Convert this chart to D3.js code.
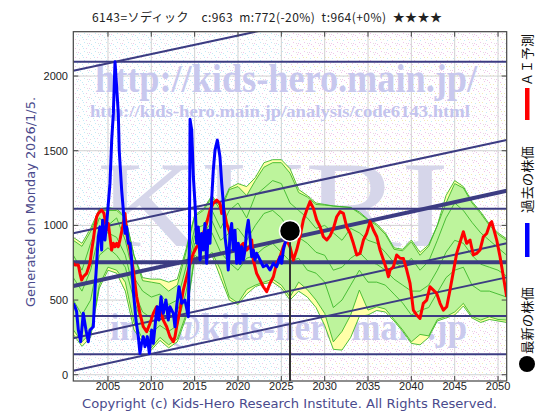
<!DOCTYPE html>
<html><head><meta charset="utf-8">
<script src="https://cdn.jsdelivr.net/npm/d3@7"></script>
<style>body{margin:0;background:#fff}svg{display:block}</style>
</head><body><svg id="c" width="560" height="420"></svg>
<script>
// ---------------- data ----------------
const titleText = "6143=ソディック    c:963  m:772(-20%)  t:964(+0%)  ★★★★";
const xTicks = [2005, 2010, 2015, 2020, 2025, 2030, 2035, 2040, 2045, 2050];
const yTicks = [0, 500, 1000, 1500, 2000];

const blueYears = [2001.00,2001.19,2001.38,2001.58,2001.85,2002.15,2002.46,2002.73,2002.92,2003.31,2003.50,2003.88,2004.08,2004.27,2004.38,2004.65,2004.85,2005.23,2005.43,2005.62,2005.81,2006.00,2006.19,2006.30,2006.58,2006.77,2006.96,2007.15,2007.35,2007.54,2007.73,2007.92,2008.23,2008.50,2008.69,2008.88,2009.08,2009.27,2009.54,2009.77,2010.04,2010.23,2010.50,2010.69,2010.88,2011.12,2011.38,2011.69,2011.96,2012.15,2012.54,2012.73,2012.92,2013.19,2013.50,2013.88,2014.27,2014.40,2014.47,2014.66,2014.85,2015.04,2015.23,2015.42,2015.62,2015.81,2016.00,2016.19,2016.38,2016.58,2016.77,2016.96,2017.15,2017.35,2017.62,2017.92,2018.12,2018.31,2018.50,2018.69,2018.88,2019.08,2019.27,2019.46,2019.65,2019.85,2020.04,2020.23,2020.42,2020.62,2020.81,2021.00,2021.19,2021.38,2021.58,2021.77,2021.96,2022.15,2022.54,2022.92,2023.31,2023.69,2024.08,2024.46,2024.85,2025.04,2025.23,2025.42,2025.62,2025.92,2026.00];
const blueValues = [478,456,424,299,221,411,299,221,299,321,567,924,990,835,1035,902,1013,1281,1571,1750,2096,1929,1750,1500,1236,1103,947,990,880,880,768,567,366,255,143,210,255,188,255,143,299,210,366,455,366,522,411,500,366,455,411,321,455,589,478,500,388,900,1710,1638,1326,1148,880,990,768,946,835,1013,746,968,880,1170,1370,1504,1571,1459,1281,1148,924,835,701,946,1013,835,968,746,880,746,857,768,835,968,1035,924,790,835,768,813,768,723,735,701,746,723,790,746,835,880,902,924,963];

const redYears = [2001.00,2001.19,2001.58,2001.77,2001.96,2002.15,2002.54,2002.92,2003.12,2003.31,2003.50,2003.69,2003.88,2004.27,2004.54,2004.85,2005.04,2005.23,2005.42,2005.62,2005.81,2006.00,2006.19,2006.38,2006.77,2006.96,2007.15,2007.54,2007.92,2008.31,2008.69,2009.08,2009.46,2009.85,2010.23,2010.62,2011.00,2011.38,2011.77,2012.15,2012.54,2012.73,2012.92,2013.31,2013.69,2014.08,2014.46,2014.85,2015.23,2015.62,2016.00,2016.38,2016.77,2017.15,2017.54,2017.92,2018.12,2018.31,2018.69,2019.08,2019.46,2019.85,2020.23,2020.62,2021.00,2021.38,2021.58,2021.77,2022.15,2022.54,2022.92,2023.31,2023.69,2024.08,2024.46,2024.85,2025.23,2025.62,2026.00,2026.38,2026.77,2027.15,2027.54,2027.93,2028.31,2028.70,2029.08,2029.47,2029.85,2030.24,2030.62,2031.01,2031.39,2031.78,2032.16,2032.54,2032.93,2033.31,2033.70,2034.08,2034.47,2034.85,2035.24,2035.62,2036.01,2036.39,2036.78,2037.16,2037.35,2037.54,2037.93,2038.31,2038.70,2039.08,2039.47,2039.85,2040.23,2040.61,2041.00,2041.38,2041.77,2042.15,2042.54,2042.92,2043.31,2043.69,2044.08,2044.46,2045.23,2046.00,2046.38,2046.77,2047.15,2047.54,2047.92,2048.31,2048.69,2049.08,2049.27,2049.85,2050.23,2050.62,2051.00];
const redValues = [746,735,735,679,634,656,679,746,835,902,990,1057,1080,1103,1080,968,1013,924,835,880,857,880,857,902,1013,1080,946,835,701,522,411,321,288,344,411,455,433,366,321,255,221,255,321,433,567,656,746,813,857,880,946,1013,1103,1148,1170,1148,1080,1125,1013,946,902,835,857,880,835,857,902,768,679,634,589,556,611,656,746,790,857,902,857,768,835,924,1036,1103,1159,1114,1036,991,924,902,930,980,1058,1092,1081,991,947,880,802,813,902,947,1025,969,924,835,768,701,656,701,723,802,780,779,701,612,433,400,377,478,500,589,567,545,478,433,455,567,813,958,880,902,802,813,835,924,946,1013,1025,902,790,656,522];

const bandYears = d3.range(2001, 2052);
const yellowHi = [920,880,980,1110,1120,1110,1060,800,650,640,640,620,640,840,1070,1110,1200,1120,1250,1280,1260,1320,1420,1440,1440,1380,1240,1200,1150,1140,1130,1125,1120,1090,1040,1010,950,850,840,902,820,870,1000,1200,1300,1260,1160,1090,1010,950,910];
const yellowLo = [270,190,250,580,700,680,560,300,220,165,230,180,220,380,780,740,800,650,500,470,540,590,610,620,580,500,560,520,450,330,170,165,250,390,400,430,420,360,290,210,200,250,360,380,400,460,380,350,370,360,350];
const greenHi = [900,860,960,1100,1100,1100,1050,800,630,620,610,560,600,820,1060,1100,1190,1100,1240,1260,1200,1300,1390,1420,1420,1350,1220,1190,1140,1136,1130,1125,1120,1081,1036,1000,940,840,830,890,800,860,1000,1150,1280,1250,1150,1080,1000,940,900];
const greenLo = [300,220,280,600,720,700,620,350,240,180,250,200,240,400,800,760,820,700,520,480,570,600,620,640,600,520,620,570,500,411,220,290,400,567,433,455,440,370,300,220,270,260,370,390,420,478,390,366,388,370,366];
const greenLineA = [800,700,880,1050,1000,1050,900,650,560,520,540,470,500,720,980,1000,1100,980,1100,1150,1050,1200,1250,1300,1280,1150,1100,1050,980,1000,950,900,980,950,900,880,820,750,720,780,700,760,900,1050,1150,1100,1020,950,900,850,800];
const greenLineB = [500,400,500,800,850,800,720,500,330,280,330,290,330,550,880,880,950,820,750,700,780,800,850,880,820,760,780,700,680,620,450,500,600,700,620,620,600,540,480,400,430,450,550,650,700,720,600,560,560,540,520];
const greenLineC = [650,560,700,950,950,920,800,560,420,380,420,380,420,640,930,940,1030,900,950,980,900,1000,1080,1100,1050,960,920,880,820,800,700,720,780,820,760,740,700,640,600,560,560,600,700,820,900,880,800,740,720,700,660];

const levelLines = [2096, 1112, 753, 393, 137];
const channelStart = [2036, 947, 594, 244, 27];   // values at 2001
const channelEnd = [2656, 1572, 1232, 880, 652];  // values at 2051
const latestYear = 2026.0, latestValue = 963;

// ---------------- drawing ----------------
const svg = d3.select("#c");
const L = 73.3, R = 506.7, T = 31.7, B = 381;
const x = d3.scaleLinear().domain([2001, 2051]).range([L, R]);
const y = d3.scaleLinear().domain([-42, 2297]).range([B, T]);
const navy = "#3c3c82";

const defs = svg.append("defs");
function dotPattern(id, w, h, dots) {
  const p = defs.append("pattern").attr("id", id).attr("width", w).attr("height", h)
    .attr("patternUnits", "userSpaceOnUse");
  p.append("rect").attr("width", w).attr("height", h).attr("fill", "#ffffff");
  dots.forEach(d => p.append("rect").attr("x", d[0]).attr("y", d[1]).attr("width", 1).attr("height", 1)
    .attr("fill", d[2]).attr("shape-rendering", "crispEdges"));
}
const cy1 = "#c2eaf6", pk = "#f0c6ea", gy = "#e0e0e0", ye = "#f2eab4";
dotPattern("bgL", 11, 9, [[0,0,cy1],[5,1,cy1],[9,3,pk],[2,4,gy],[7,6,cy1],[3,8,cy1],[10,7,gy],[6,3,cy1],[1,7,pk]]);
dotPattern("bgR", 11, 9, [[0,0,pk],[5,1,pk],[9,3,ye],[2,4,cy1],[7,6,pk],[3,8,pk],[10,7,gy],[6,3,ye],[1,7,pk]]);
defs.append("clipPath").attr("id", "plot").append("rect")
  .attr("x", L).attr("y", T).attr("width", R - L).attr("height", B - T);

const g = svg.append("g").attr("clip-path", "url(#plot)");
g.append("rect").attr("x", L).attr("y", T).attr("width", x(latestYear) - L).attr("height", B - T).attr("fill", "url(#bgL)");
g.append("rect").attr("x", x(latestYear)).attr("y", T).attr("width", R - x(latestYear)).attr("height", B - T).attr("fill", "url(#bgR)");

// grid
g.selectAll(".vg").data(xTicks).join("line").attr("x1", d => x(d)).attr("x2", d => x(d))
  .attr("y1", T).attr("y2", B).attr("stroke", "#d2d2d2").attr("stroke-width", 1);
g.selectAll(".hg").data(yTicks).join("line").attr("y1", d => y(d)).attr("y2", d => y(d))
  .attr("x1", L).attr("x2", R).attr("stroke", "#d2d2d2").attr("stroke-width", 1);

// watermarks
const wm = g.append("g").attr("font-family", "'Liberation Serif', 'DejaVu Serif', serif").attr("font-weight", "bold");
wm.append("text").attr("x", 97).attr("y", 246).attr("font-size", 122).attr("font-weight", "normal")
  .attr("textLength", 352).attr("lengthAdjust", "spacingAndGlyphs").attr("fill", "#d6d6ea").text("KHRI");
wm.append("text").attr("x", 95).attr("y", 92).attr("font-size", 40)
  .attr("textLength", 382).attr("lengthAdjust", "spacingAndGlyphs").attr("fill", "#c8c8ee").text("http://kids-hero.main.jp/");
wm.append("text").attr("x", 90).attr("y", 117).attr("font-size", 17)
  .attr("textLength", 380).attr("lengthAdjust", "spacingAndGlyphs").attr("fill", "#c4c4ee").text("http://kids-hero.main.jp/analysis/code6143.html");
wm.append("text").attr("x", 110).attr("y", 340).attr("font-size", 38)
  .attr("textLength", 357).attr("lengthAdjust", "spacingAndGlyphs").attr("fill", "#cacaee").text("info@kids-hero.main.jp");

// forecast bands
const band = bandYears.map((yr, i) => ({yr, yh: yellowHi[i], yl: yellowLo[i], gh: greenHi[i], gl: greenLo[i], a: greenLineA[i], b: greenLineB[i], c: greenLineC[i]}));
g.append("path").datum(band).attr("fill", "#ffffa8")
  .attr("d", d3.area().x(d => x(d.yr)).y0(d => y(d.yl)).y1(d => y(d.yh)));
g.append("path").datum(band).attr("fill", "#bdf49c")
  .attr("d", d3.area().x(d => x(d.yr)).y0(d => y(d.gl)).y1(d => y(d.gh)));
["yh", "yl", "gh", "gl", "a", "b", "c"].forEach(k => {
  g.append("path").datum(band).attr("fill", "none").attr("stroke", "#3cb82a").attr("stroke-width", 0.9)
    .attr("d", d3.line().x(d => x(d.yr)).y(d => y(d[k])));
});

// level lines
g.selectAll(".lv").data(levelLines).join("line")
  .attr("x1", L).attr("x2", R).attr("y1", d => y(d)).attr("y2", d => y(d))
  .attr("stroke", navy).attr("stroke-width", (d, i) => i === 2 ? 4 : 2);
// channel lines
g.selectAll(".ch").data(channelStart).join("line")
  .attr("x1", x(2001)).attr("x2", x(2051))
  .attr("y1", d => y(d)).attr("y2", (d, i) => y(channelEnd[i]))
  .attr("stroke", navy).attr("stroke-width", (d, i) => i === 2 ? 4 : 2);

// red & blue lines
const red = redYears.map((yr, i) => [yr, redValues[i]]);
const blue = blueYears.map((yr, i) => [yr, blueValues[i]]);
const ln = d3.line().x(d => x(d[0])).y(d => y(d[1]));
g.append("path").datum(red).attr("fill", "none").attr("stroke", "#ff0000").attr("stroke-width", 3).attr("stroke-linejoin", "round").attr("d", ln);
g.append("path").datum(blue).attr("fill", "none").attr("stroke", "#0000ff").attr("stroke-width", 3).attr("stroke-linejoin", "round").attr("d", ln);

// latest marker
g.append("line").attr("x1", x(latestYear)).attr("x2", x(latestYear)).attr("y1", y(latestValue)).attr("y2", B)
  .attr("stroke", "#333").attr("stroke-width", 2);
g.append("circle").attr("cx", x(latestYear)).attr("cy", y(latestValue)).attr("r", 10.5)
  .attr("fill", "#000").attr("stroke", "#fff").attr("stroke-width", 1.5);

// frame + ticks
svg.append("rect").attr("x", L).attr("y", T).attr("width", R - L).attr("height", B - T)
  .attr("fill", "none").attr("stroke", "#444").attr("stroke-width", 1.2);
const tk = svg.append("g").attr("stroke", "#444").attr("stroke-width", 1);
xTicks.forEach(d => {
  tk.append("line").attr("x1", x(d)).attr("x2", x(d)).attr("y1", B).attr("y2", B - 5);
  tk.append("line").attr("x1", x(d)).attr("x2", x(d)).attr("y1", T).attr("y2", T + 5);
});
yTicks.forEach(d => {
  tk.append("line").attr("x1", L).attr("x2", L + 5).attr("y1", y(d)).attr("y2", y(d));
  tk.append("line").attr("x1", R).attr("x2", R - 5).attr("y1", y(d)).attr("y2", y(d));
});

const lab = svg.append("g").attr("font-family", "'Liberation Sans', Arial, sans-serif").attr("font-size", 11).attr("fill", "#222");
lab.selectAll(".xl").data(xTicks).join("text").attr("x", d => x(d)).attr("y", 390)
  .attr("text-anchor", "middle").text(d => d);
lab.selectAll(".yl").data(yTicks).join("text").attr("x", 68).attr("y", d => y(d) + 4)
  .attr("text-anchor", "end").text(d => d);

// title
svg.append("text").attr("x", 92).attr("y", 22).attr("font-family", "'Noto Sans CJK JP', sans-serif")
  .attr("font-size", 12).attr("fill", "#222").attr("xml:space", "preserve").style("white-space", "pre")
  .attr("textLength", 350).attr("lengthAdjust", "spacing").text(titleText);

// side texts
svg.append("text").attr("transform", "translate(35,307) rotate(-90)")
  .attr("font-family", "'DejaVu Sans', sans-serif").attr("font-size", 12.5).attr("fill", "#4a4a8c")
  .attr("textLength", 210).attr("lengthAdjust", "spacingAndGlyphs").text("Generated on Monday 2026/1/5.");
svg.append("text").attr("x", 82).attr("y", 408)
  .attr("font-family", "'DejaVu Sans', sans-serif").attr("font-size", 13).attr("fill", "#4a4a8c")
  .attr("textLength", 415).attr("lengthAdjust", "spacingAndGlyphs").text("Copyright (c) Kids-Hero Research Institute. All Rights Reserved.");

// legend (vertical)
const lg = svg.append("g").attr("font-family", "'Noto Sans CJK JP', sans-serif").attr("font-size", 13).attr("fill", "#111");
function vtext(t, yBottom, len) {
  lg.append("text").attr("transform", `translate(532,${yBottom}) rotate(-90)`)
    .attr("textLength", len).attr("lengthAdjust", "spacingAndGlyphs").text(t);
}
vtext("ＡＩ予測", 86, 52);
lg.append("rect").attr("x", 525).attr("y", 88).attr("width", 4.5).attr("height", 32).attr("fill", "#ff0000");
vtext("過去の株価", 213, 67);
lg.append("rect").attr("x", 525).attr("y", 223).attr("width", 4.5).attr("height", 34).attr("fill", "#0000ff");
vtext("最新の株価", 354, 67);
lg.append("circle").attr("cx", 527).attr("cy", 364).attr("r", 8).attr("fill", "#000");
</script></body></html>
